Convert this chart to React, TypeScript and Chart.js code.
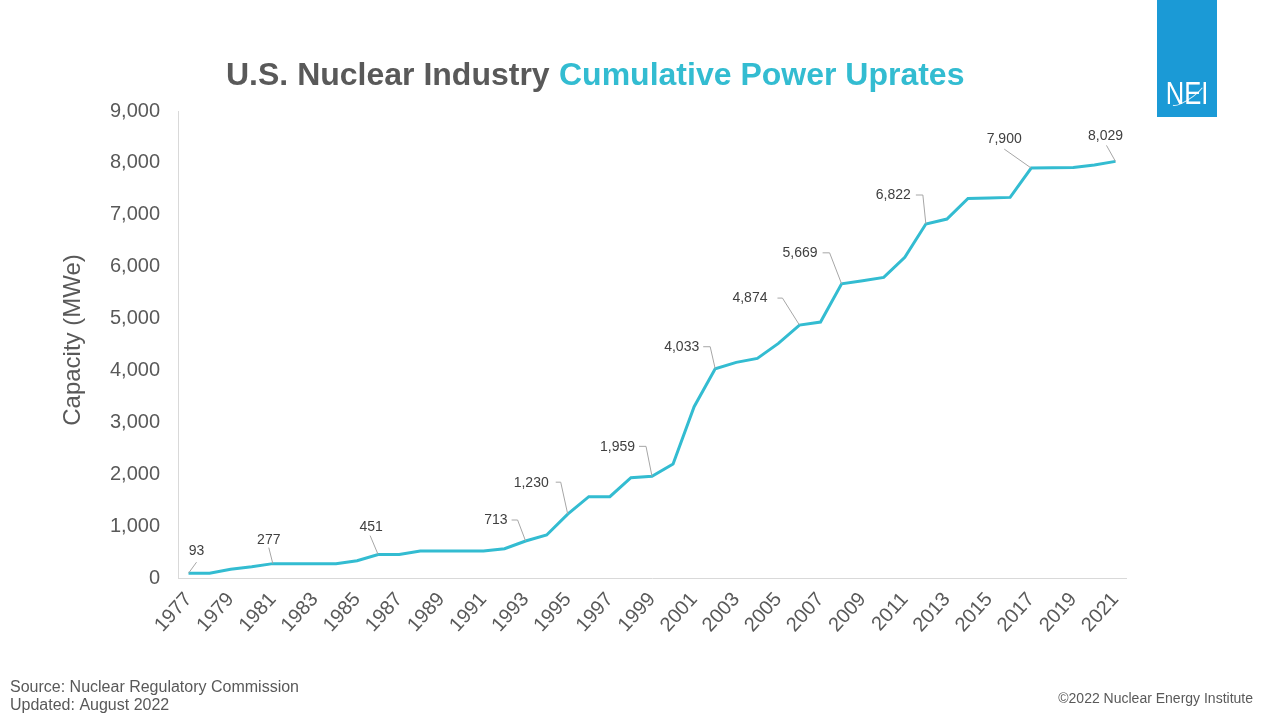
import React, { useEffect, useRef } from "react";
import { Chart, registerables } from "chart.js";

Chart.register(...registerables);

const years: string[] = [
  "1977", "1978", "1979", "1980", "1981", "1982", "1983", "1984", "1985", "1986",
  "1987", "1988", "1989", "1990", "1991", "1992", "1993", "1994", "1995", "1996",
  "1997", "1998", "1999", "2000", "2001", "2002", "2003", "2004", "2005", "2006",
  "2007", "2008", "2009", "2010", "2011", "2012", "2013", "2014", "2015", "2016",
  "2017", "2018", "2019", "2020", "2021",
];

const capacityMWe: number[] = [
  93, 93, 170, 215, 277, 277, 277, 277, 333, 451,
  451, 520, 520, 520, 520, 565, 713, 828, 1230, 1567,
  1567, 1933, 1959, 2197, 3301, 4033, 4156, 4233, 4522, 4874,
  4933, 5669, 5728, 5794, 6179, 6822, 6917, 7316, 7322, 7335,
  7900, 7905, 7910, 7960, 8029,
];

const labeledYears: string[] = [
  "1977", "1981", "1986", "1993", "1995", "1999", "2002", "2006", "2008", "2012", "2017", "2021",
];

const yTickValues: number[] = [0, 1000, 2000, 3000, 4000, 5000, 6000, 7000, 8000, 9000];

const titleDark = "U.S. Nuclear Industry";
const titleTeal = "Cumulative Power Uprates";
const yAxisTitle = "Capacity (MWe)";
const sourceText = "Source: Nuclear Regulatory Commission";
const updatedText = "Updated: August 2022";
const copyrightText = "©2022 Nuclear Energy Institute";
const logoText = "NEI";

// label placement (pixel offsets relative to the data point) — style only
type LabelStyle = { dx: number; dy: number; align: CanvasTextAlign; leader: [number, number][] };
const labelStyles: Record<string, LabelStyle> = {
  "1977": { dx: 8, dy: -22, align: "center", leader: [[0, 0], [8, -11]] },
  "1981": { dx: -4, dy: -23, align: "center", leader: [[0, 0], [-4, -16]] },
  "1986": { dx: -7, dy: -27, align: "center", leader: [[0, 0], [-8, -19]] },
  "1993": { dx: -18, dy: -21, align: "right", leader: [[0, 0], [-8, -21], [-14, -21]] },
  "1995": { dx: -19, dy: -31, align: "right", leader: [[0, 0], [-7, -32], [-12, -32]] },
  "1999": { dx: -17, dy: -29, align: "right", leader: [[0, 0], [-6, -30], [-13, -30]] },
  "2002": { dx: -16, dy: -22, align: "right", leader: [[0, 0], [-5, -22], [-12, -22]] },
  "2006": { dx: -32, dy: -27, align: "right", leader: [[0, 0], [-17, -27], [-22, -27]] },
  "2008": { dx: -24, dy: -31, align: "right", leader: [[0, 0], [-12, -31], [-19, -31]] },
  "2012": { dx: -15, dy: -29, align: "right", leader: [[0, 0], [-3, -29], [-10, -29]] },
  "2017": { dx: -27, dy: -29, align: "center", leader: [[0, 0], [-27, -19]] },
  "2021": { dx: -10, dy: -25, align: "center", leader: [[0, 0], [-9, -16]] },
};

const FONT = "'Liberation Sans', Arial, sans-serif";
const GRAY = "#595959";
const TEAL = "#33BCD1";

const decorPlugin = {
  id: "decor",
  afterDraw(chart: any) {
    const ctx: CanvasRenderingContext2D = chart.ctx;
    const meta = chart.getDatasetMeta(0);
    ctx.save();

    // data labels with leader lines
    ctx.font = `14px ${FONT}`;
    ctx.textBaseline = "middle";
    labeledYears.forEach((yr) => {
      const idx = years.indexOf(yr);
      if (idx < 0) return;
      const pt = meta.data[idx];
      const st = labelStyles[yr];
      const px = pt.x;
      const py = pt.y;
      ctx.strokeStyle = "#A6A6A6";
      ctx.lineWidth = 1;
      ctx.beginPath();
      st.leader.forEach(([lx, ly], i) => {
        if (i === 0) ctx.moveTo(px + lx, py + ly);
        else ctx.lineTo(px + lx, py + ly);
      });
      ctx.stroke();
      ctx.fillStyle = "#404040";
      ctx.textAlign = st.align;
      ctx.fillText(capacityMWe[idx].toLocaleString("en-US"), px + st.dx, py + st.dy);
    });

    // title
    ctx.textBaseline = "alphabetic";
    ctx.textAlign = "left";
    ctx.font = `bold 32px ${FONT}`;
    ctx.fillStyle = GRAY;
    ctx.fillText(titleDark, 226, 85);
    ctx.fillStyle = TEAL;
    ctx.fillText(titleTeal, 559, 85);

    // y axis title
    ctx.save();
    ctx.translate(73, 340);
    ctx.rotate(-Math.PI / 2);
    ctx.font = `24px ${FONT}`;
    ctx.fillStyle = GRAY;
    ctx.textAlign = "center";
    ctx.textBaseline = "middle";
    ctx.fillText(yAxisTitle, 0, 0);
    ctx.restore();

    // footer
    ctx.font = `16px ${FONT}`;
    ctx.fillStyle = GRAY;
    ctx.textAlign = "left";
    ctx.fillText(sourceText, 10, 692);
    ctx.fillText(updatedText, 10, 710);
    ctx.font = `14px ${FONT}`;
    ctx.textAlign = "right";
    ctx.fillText(copyrightText, 1253, 703);

    // logo
    ctx.fillStyle = "#1B9AD6";
    ctx.fillRect(1157, 0, 60, 117);
    ctx.fillStyle = "#FFFFFF";
    ctx.textAlign = "center";
    ctx.save();
    ctx.translate(1187, 104);
    ctx.scale(0.8, 1);
    ctx.font = `32px ${FONT}`;
    ctx.fillText(logoText, 0, 0);
    ctx.restore();
    ctx.save();
    ctx.translate(1188, 94);
    ctx.rotate(-0.6);
    ctx.strokeStyle = "rgba(255,255,255,0.85)";
    ctx.lineWidth = 1;
    ctx.beginPath();
    ctx.ellipse(0, 0, 19, 5, 0, Math.PI * 0.2, Math.PI * 0.95);
    ctx.stroke();
    ctx.restore();

    ctx.restore();
  },
};

export default function App() {
  const ref = useRef<HTMLCanvasElement | null>(null);
  useEffect(() => {
    if (!ref.current) return;
    const chart = new Chart(ref.current, {
      type: "line",
      data: {
        labels: years,
        datasets: [
          {
            data: capacityMWe,
            borderColor: TEAL,
            borderWidth: 3,
            pointRadius: 0,
            tension: 0,
            fill: false,
          },
        ],
      },
      options: {
        responsive: false,
        animation: false,
        events: [],
        layout: { padding: { left: 0, top: 111, right: 154, bottom: 0 } },
        plugins: { legend: { display: false }, tooltip: { enabled: false }, title: { display: false } },
        scales: {
          x: {
            offset: true,
            grid: { display: false, drawTicks: false },
            border: { display: true, color: "#D9D9D9", width: 1 },
            afterFit: (s: any) => {
              s.height = 142;
            },
            ticks: {
              autoSkip: false,
              minRotation: 48,
              maxRotation: 48,
              padding: 10,
              color: GRAY,
              font: { family: FONT, size: 20 },
              callback: function (this: any, val: any, idx: number) {
                return idx % 2 === 0 ? this.getLabelForValue(val) : "";
              },
            },
          },
          y: {
            min: 0,
            max: 9000,
            afterFit: (s: any) => {
              s.width = 178;
            },
            afterBuildTicks: (s: any) => {
              s.ticks = yTickValues.map((v) => ({ value: v }));
            },
            grid: { display: false, drawTicks: false },
            border: { display: true, color: "#D9D9D9", width: 1 },
            ticks: {
              padding: 18,
              color: GRAY,
              font: { family: FONT, size: 20 },
              callback: (v: any) => Number(v).toLocaleString("en-US"),
            },
          },
        },
      },
      plugins: [decorPlugin],
    });
    return () => chart.destroy();
  }, []);

  return (
    <div style={{ position: "fixed", left: 0, top: 0, width: 1280, height: 720, background: "#fff" }}>
      <canvas ref={ref} width={1280} height={720} style={{ display: "block", width: 1280, height: 720 }} />
    </div>
  );
}
